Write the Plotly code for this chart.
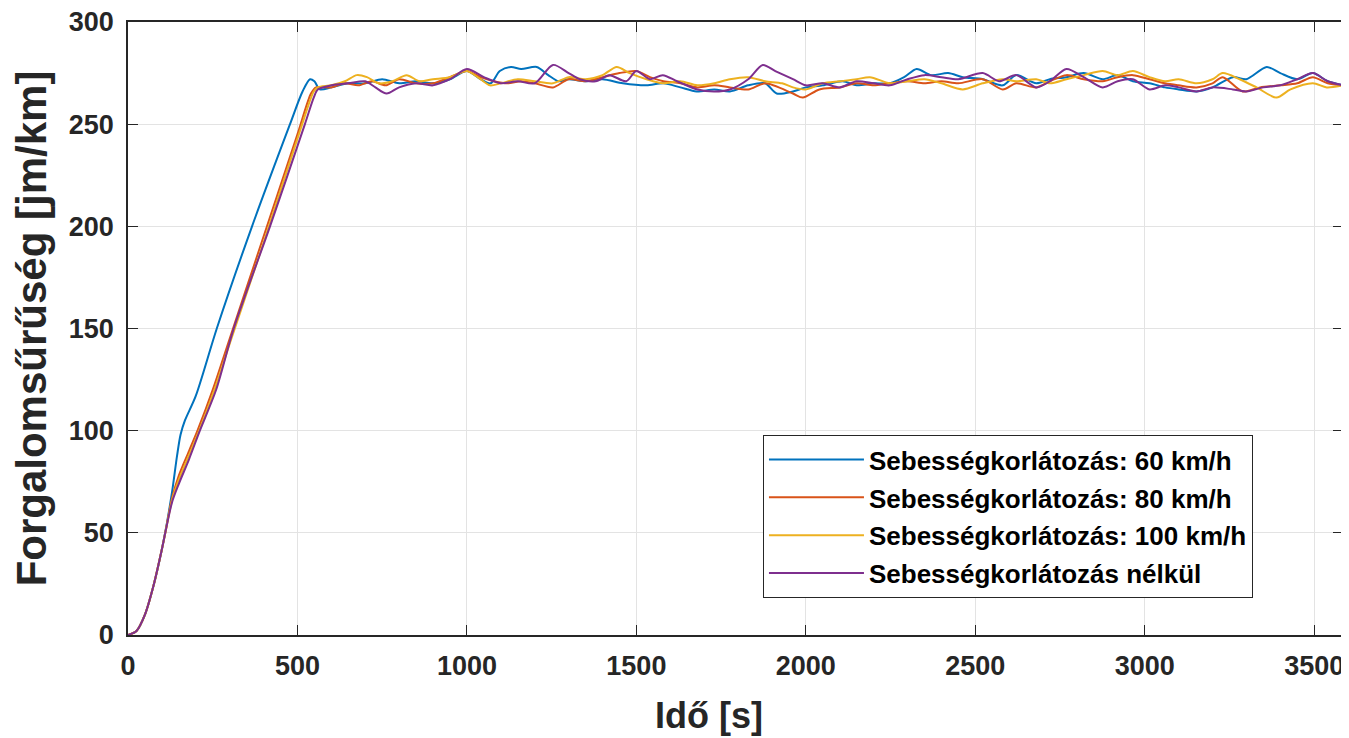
import plotly.graph_objects as go

names = ["Sebességkorlátozás: 60 km/h", "Sebességkorlátozás: 80 km/h",
         "Sebességkorlátozás: 100 km/h", "Sebességkorlátozás nélkül"]
colors = ["#0072BD", "#D95319", "#EDB120", "#7E2F8E"]
x_title = "Idő [s]"
y_title = "Forgalomsűrűség [jm/km]"

t60 = [0, 25, 50, 75, 100, 115, 130, 145, 155, 168, 200, 262, 366, 478, 515, 537, 550, 566,
       600, 650, 700, 750, 800, 850, 900, 950, 1000, 1040, 1070, 1097, 1130, 1160, 1206, 1240,
       1270, 1300, 1350, 1400, 1460, 1530, 1580, 1630, 1678, 1730, 1776, 1830, 1880, 1914, 1962,
       2000, 2050, 2109, 2150, 2200, 2248, 2290, 2327, 2370, 2420, 2463, 2522, 2581, 2621, 2680,
       2720, 2769, 2820, 2876, 2920, 2965, 3014, 3060, 3100, 3153, 3200, 3260, 3300, 3360, 3400,
       3450, 3496, 3540, 3585]
y60 = [0, 2, 10, 24, 42, 55, 70, 88, 98, 105, 117, 150, 200, 250, 266, 272, 271, 267,
       268, 270, 270, 272, 270, 271, 270, 272, 276, 272, 270, 276, 278, 277, 278, 274,
       271, 272, 271, 272, 270, 269, 270, 268, 266, 267, 266, 269, 270, 265, 266,
       268, 269, 271, 269, 270, 270, 273, 277, 274, 275, 273, 272, 269, 274, 270,
       272, 273, 275, 272, 274, 271, 270, 268, 267, 266, 268, 273, 272, 278, 275,
       272, 275, 271, 269]

t80 = [0, 25, 50, 75, 100, 110, 130, 150, 180, 205, 250, 300, 390, 500, 540, 555,
       600, 640, 680, 720, 760, 800, 850, 900, 950, 1000, 1040, 1080, 1120, 1160, 1200, 1254,
       1300, 1350, 1400, 1450, 1500, 1540, 1580, 1630, 1680, 1730, 1776, 1830, 1880, 1962, 1991,
       2040, 2100, 2150, 2200, 2248, 2300, 2350, 2400, 2450, 2522, 2581, 2621, 2680, 2720, 2769,
       2820, 2876, 2920, 2965, 3014, 3060, 3100, 3153, 3200, 3230, 3289, 3340, 3400, 3450, 3496,
       3540, 3585]
y80 = [0, 2, 10, 24, 42, 50, 67, 78, 90, 100, 120, 145, 190, 245, 265, 268,
       268, 270, 269, 271, 269, 272, 270, 270, 273, 276, 273, 271, 270, 271, 270, 268,
       272, 271, 273, 275, 276, 273, 271, 270, 268, 269, 268, 267, 270, 265, 263,
       267, 268, 270, 269, 270, 271, 270, 271, 270, 272, 267, 270, 268, 271, 274,
       272, 271, 273, 274, 272, 270, 269, 268, 270, 273, 266, 268, 269, 270, 273,
       270, 269]

t100 = [0, 25, 50, 75, 100, 110, 130, 150, 180, 210, 255, 305, 400, 510, 548, 560,
        600, 640, 675, 705, 740, 780, 822, 860, 900, 950, 1000, 1040, 1068, 1100, 1150, 1200,
        1254, 1300, 1350, 1400, 1442, 1480, 1530, 1578, 1630, 1680, 1730, 1776, 1830, 1880, 1930,
        1962, 2000, 2050, 2100, 2150, 2189, 2248, 2300, 2350, 2400, 2463, 2522, 2581, 2621, 2680,
        2720, 2769, 2820, 2876, 2920, 2965, 3014, 3060, 3100, 3153, 3200, 3230, 3280, 3330, 3389,
        3430, 3496, 3537, 3585]
y100 = [0, 2, 10, 24, 42, 50, 66, 76, 88, 100, 120, 145, 192, 248, 266, 268,
        269, 271, 274, 273, 270, 271, 274, 271, 272, 273, 276, 272, 269, 270, 272, 271,
        270, 273, 272, 274, 278, 275, 272, 270, 271, 269, 270, 272, 273, 271, 270,
        268, 267, 270, 271, 272, 273, 270, 271, 272, 270, 267, 270, 272, 271, 272,
        270, 272, 274, 276, 274, 276, 273, 271, 272, 270, 272, 275, 272, 268, 263,
        267, 270, 268, 269]

tn = [0, 25, 50, 75, 100, 110, 130, 150, 180, 212, 260, 312, 419, 522, 548, 560,
      600, 650, 700, 730, 763, 800, 850, 900, 950, 1000, 1050, 1100, 1150, 1200, 1254, 1300,
      1333, 1380, 1420, 1470, 1500, 1540, 1578, 1620, 1680, 1730, 1776, 1830, 1873, 1910, 1962,
      2000, 2050, 2100, 2150, 2200, 2248, 2300, 2350, 2400, 2450, 2522, 2570, 2621, 2680, 2720,
      2769, 2820, 2876, 2920, 2965, 3014, 3060, 3100, 3153, 3200, 3260, 3300, 3350, 3400, 3450,
      3496, 3540, 3585]
yn = [0, 2, 10, 24, 42, 50, 65, 74, 86, 100, 120, 150, 200, 250, 263, 267,
      269, 270, 271, 268, 265, 268, 270, 269, 272, 277, 273, 270, 271, 270, 279, 275,
      272, 271, 274, 271, 276, 272, 274, 271, 267, 266, 267, 272, 279, 276, 272,
      269, 270, 268, 271, 270, 269, 272, 274, 273, 272, 275, 271, 274, 268, 271,
      277, 273, 268, 271, 272, 267, 269, 268, 266, 268, 267, 266, 268, 269, 272,
      275, 271, 269]

xs = [t60, t80, t100, tn]
ys = [y60, y80, y100, yn]

fig = go.Figure()
for i in range(4):
    fig.add_trace(go.Scatter(x=xs[i], y=ys[i], mode="lines", name=names[i],
                             line=dict(color=colors[i], width=2, shape="spline", smoothing=0.8),
                             legendgroup=str(i)))

FONT = "Liberation Sans"
axis_common = dict(showline=True, linecolor="#262626", linewidth=1.5, mirror="ticks",
                   ticks="inside", ticklen=10, tickcolor="#262626", showgrid=True,
                   gridcolor="#e3e3e3", gridwidth=1, zeroline=False, automargin=False,
                   ticklabeloverflow="allow",
                   tickfont=dict(family=FONT, size=27, color="#262626", weight="bold"))

fig.update_layout(
    width=1341, height=730,
    margin=dict(l=120, r=6, t=14, b=103),
    paper_bgcolor="white", plot_bgcolor="white",
    font=dict(family=FONT, color="#262626"),
    xaxis=dict(range=[0, 3585], dtick=500, tick0=0, ticklabelstandoff=6, **axis_common),
    yaxis=dict(range=[0, 300], dtick=50, tick0=0, ticklabelstandoff=7,
               title=dict(text=y_title, standoff=12,
                          font=dict(family=FONT, size=42, color="#262626", weight="bold")),
               **axis_common),
    legend=dict(x=0.5226, y=0.326, xanchor="left", yanchor="top",
                bgcolor="white", bordercolor="#262626", borderwidth=1,
                font=dict(family=FONT, size=26, color="#000000", weight="bold"),
                traceorder="grouped", tracegroupgap=1, itemwidth=95),
    annotations=[dict(text=x_title, xref="paper", yref="paper", x=0.478, y=-0.132,
                      xanchor="center", yanchor="middle", showarrow=False,
                      font=dict(family=FONT, size=36, color="#262626", weight="bold"))],
)

fig.write_html("out.html")
